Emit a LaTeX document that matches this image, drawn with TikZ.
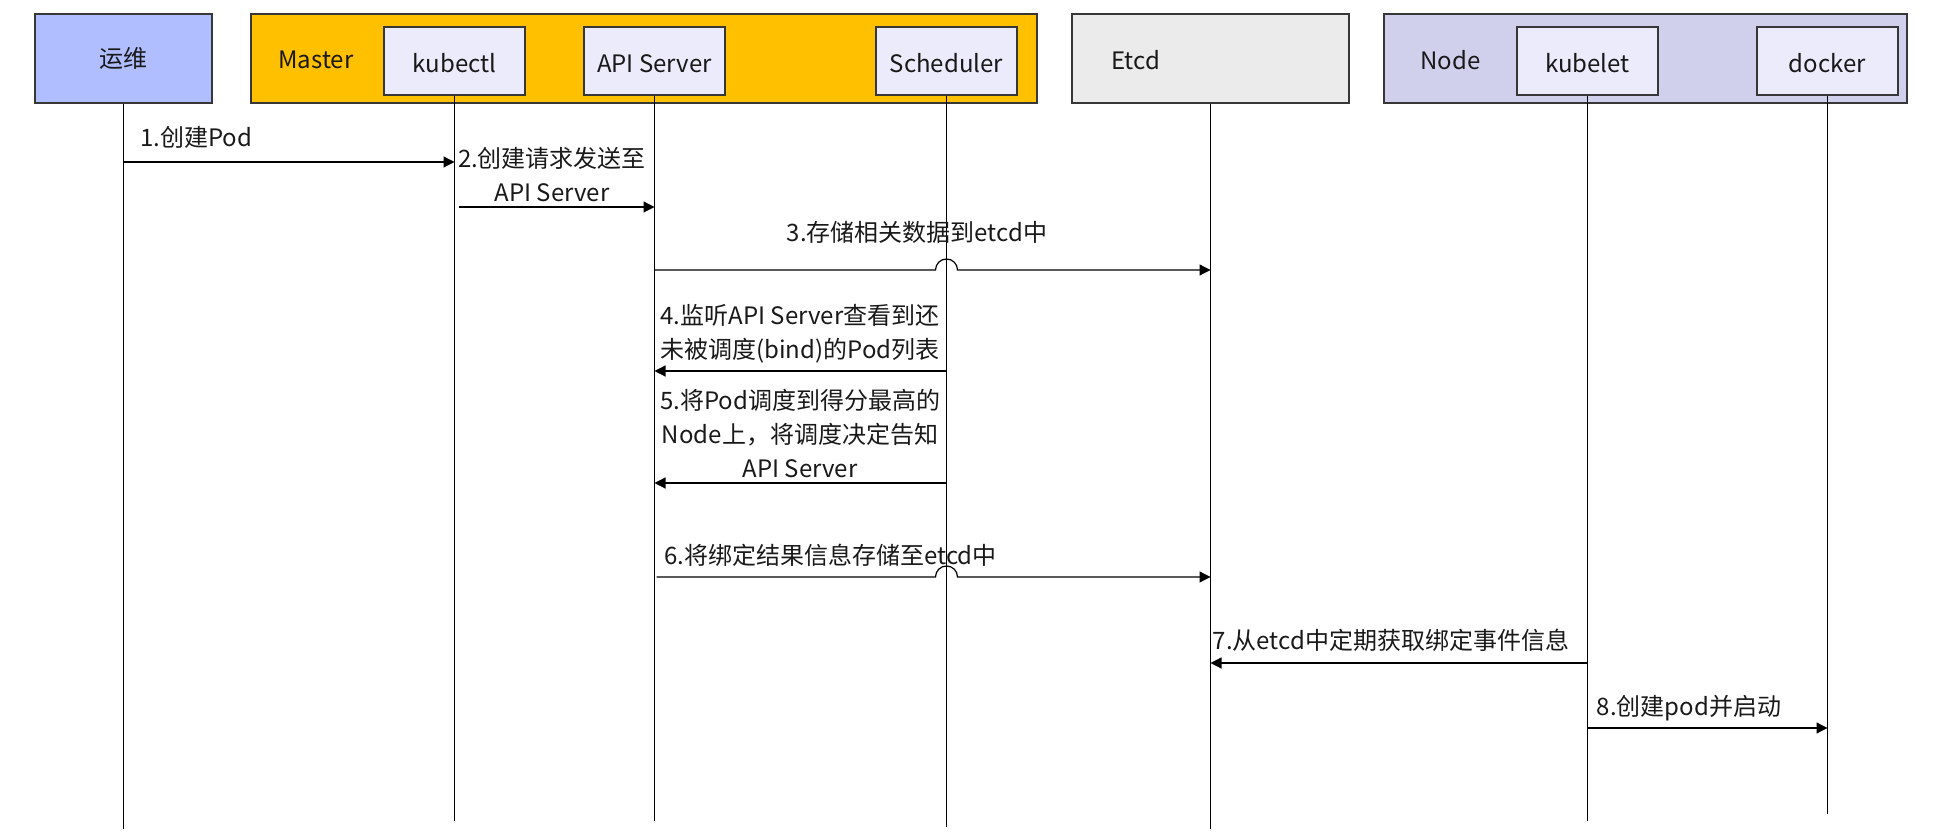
\documentclass[tikz,border=0pt]{standalone}
\usepackage{fontspec}
\setmainfont{Noto Sans CJK SC}
\usetikzlibrary{arrows.meta}

\definecolor{opsfill}{RGB}{176,190,255}
\definecolor{masterfill}{RGB}{255,192,0}
\definecolor{innerfill}{RGB}{235,235,252}
\definecolor{etcdfill}{RGB}{235,235,235}
\definecolor{nodefill}{RGB}{208,208,236}
\definecolor{edge}{RGB}{55,55,55}
\definecolor{txt}{RGB}{25,25,25}

\begin{document}
\begin{tikzpicture}[x=0.5pt,y=-0.5pt,
  every node/.style={font=\fontsize{12}{17}\selectfont, text=txt},
  outerbox/.style={draw=edge, line width=0.75pt, inner sep=0pt,
    minimum height=44.5pt},
  innerbox/.style={draw=edge, line width=0.75pt, inner sep=0pt,
    fill=innerfill, minimum width=70.5pt, minimum height=34pt,
    text height=12pt, text depth=0pt},
  tag/.style={anchor=west, inner sep=0pt},
  lifeline/.style={draw=black, line width=0.55pt},
  msg/.style={draw=black, line width=0.6pt,
    -{Triangle[length=5.5pt,width=5.5pt]}},
  note/.style={align=center, inner sep=0pt}]

\useasboundingbox (0,0) rectangle (1951,839);

% participants
\node[outerbox, fill=opsfill, minimum width=88.5pt] (ops) at (123.5,58.5) {运维};
\node[outerbox, fill=masterfill, minimum width=393pt] (master) at (644,58.5) {};
\node[tag] (masterlbl) at (278,60) {Master};
\node[innerbox] (kubectl) at (454.5,61) {kubectl};
\node[innerbox] (api) at (654.5,61) {API Server};
\node[innerbox] (sched) at (946.5,61) {Scheduler};
\node[outerbox, fill=etcdfill, minimum width=138.5pt] (etcd) at (1210.5,58.5) {};
\node[tag] (etcdlbl) at (1111,60) {Etcd};
\node[outerbox, fill=nodefill, minimum width=261.5pt] (worker) at (1645.5,58.5) {};
\node[tag] (workerlbl) at (1420,60) {Node};
\node[innerbox] (kubelet) at (1587.5,61) {kubelet};
\node[innerbox] (docker) at (1827.5,61) {docker};

% lifeline ends
\coordinate (opsEnd) at (123.5,829);
\coordinate (kubectlEnd) at (454.5,821);
\coordinate (apiEnd) at (654.5,821);
\coordinate (schedEnd) at (946.5,827);
\coordinate (etcdEnd) at (1210.5,829);
\coordinate (kubeletEnd) at (1587.5,821);
\coordinate (dockerEnd) at (1827.5,814);

\draw[lifeline] (ops.south) -- (opsEnd);
\draw[lifeline] (kubectl.south) -- (kubectlEnd);
\draw[lifeline] (api.south) -- (apiEnd);
\draw[lifeline] (sched.south) -- (schedEnd);
\draw[lifeline] (etcd.south) -- (etcdEnd);
\draw[lifeline] (kubelet.south) -- (kubeletEnd);
\draw[lifeline] (docker.south) -- (dockerEnd);

% 1
\node[tag] (l1) at (140,137) {1.创建Pod};
\draw[msg] (ops.south |- 0,162) -- (kubectl.south |- 0,162);
% 2
\node[note] (l2) at (552,175) {2.创建请求发送至\\API Server};
\draw[msg] ([xshift=2pt]kubectl.south |- 0,207) -- (api.south |- 0,207);
% 3 (hops over the Scheduler lifeline)
\node[note] (l3) at (917,232) {3.存储相关数据到etcd中};
\draw[msg] (api.south |- 0,270) -- ([xshift=-5.5pt]sched.south |- 0,270)
  arc[start angle=180, end angle=0, radius=5.5pt] -- (etcd.south |- 0,270);
% 4
\node[note] (l4) at (800,333.5) {4.监听API Server查看到还\\未被调度(bind)的Pod列表};
\draw[msg] (sched.south |- 0,371) -- (api.south |- 0,371);
% 5
\node[note] (l5) at (800,433.5) {5.将Pod调度到得分最高的\\Node上，将调度决定告知\\API Server};
\draw[msg] (sched.south |- 0,483) -- (api.south |- 0,483);
% 6 (hops over the Scheduler lifeline)
\node[tag] (l6) at (664,555) {6.将绑定结果信息存储至etcd中};
\draw[msg] ([xshift=1pt]api.south |- 0,577) -- ([xshift=-5.5pt]sched.south |- 0,577)
  arc[start angle=180, end angle=0, radius=5.5pt] -- (etcd.south |- 0,577);
% 7
\node[note] (l7) at (1391,640) {7.从etcd中定期获取绑定事件信息};
\draw[msg] (kubelet.south |- 0,663) -- (etcd.south |- 0,663);
% 8
\node[note] (l8) at (1689,708) {8.创建pod并启动};
\draw[msg] (kubelet.south |- 0,728) -- (docker.south |- 0,728);

\end{tikzpicture}
\end{document}
